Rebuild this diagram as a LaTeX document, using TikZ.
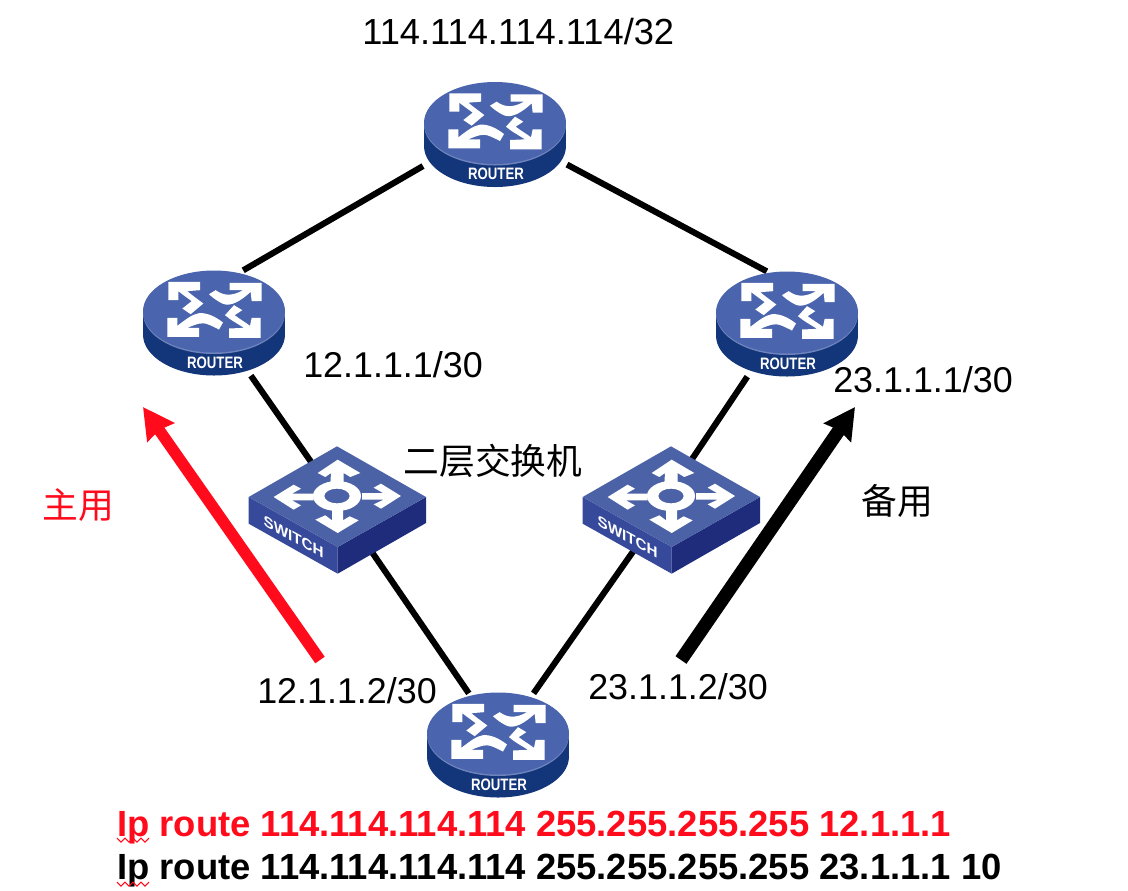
\documentclass[tikz,border=0pt]{standalone}
\usepackage{fontspec}
\setmainfont{Liberation Sans}
\newfontfamily\cjkfont{Noto Sans CJK SC}
\usetikzlibrary{arrows.meta,shapes.geometric}
\definecolor{rtop}{HTML}{4A65AD}
\definecolor{rside}{HTML}{13357A}
\definecolor{rrim}{HTML}{6F83BC}
\definecolor{stop}{HTML}{4B63A6}
\definecolor{sleft}{HTML}{37499A}
\definecolor{sright}{HTML}{1F2C7C}
\definecolor{mainred}{HTML}{FF0B1C}
\tikzset{
  x=0.75pt,y=-0.75pt,
  devbox/.style={draw=none,rectangle,inner sep=0pt,outer sep=0pt,minimum width=108pt,minimum height=79pt},
  swbox/.style={draw=none,diamond,shape aspect=1.41,inner sep=0pt,outer sep=0pt,minimum width=134pt,minimum height=95pt},
  link/.style={line width=4.6pt,black},
  bigarrow/.style={-{Stealth[length=23pt,width=24pt,inset=2pt]}},
  lbl/.style={inner sep=0pt,anchor=base west,font=\fontsize{26.9pt}{30pt}\selectfont},
  cmd/.style={inner sep=0pt,anchor=base west,font=\fontsize{27.3pt}{30pt}\selectfont\bfseries},
  cjk/.style={inner sep=0pt,font=\fontsize{26.8pt}{30pt}\selectfont\cjkfont},
  squiggle/.style={draw=mainred,line width=0.8pt},
  router/.pic={
    \fill[rside] (-71,0) rectangle (71,23);
    \fill[rside] (0,23) ellipse [x radius=71,y radius=41];
    \fill[rrim] (0,1.5) ellipse [x radius=71,y radius=41];
    \fill[rtop] (0,0) ellipse [x radius=71,y radius=41];
    \node[text=white,inner sep=0pt,xscale=0.8,transform shape,font=\fontsize{12.4pt}{13pt}\selectfont\bfseries] at (1,51) {ROUTER};
    \begin{scope}[x=0.25pt,y=-0.25pt,shift={(-285,-189)}]
      \fill[white] (148,100) -- (243,100) -- (243,125) -- (205,128)
        .. controls (225,145) and (240,155) .. (253,165) -- (215,197) -- (190,180) -- (218,158)
        .. controls (205,148) and (190,138) .. (178,128) -- (178,155) -- (148,155) -- cycle;
      \fill[white] (428,103) -- (428,158) -- (398,158) -- (395,130)
        .. controls (365,158) and (335,175) .. (312,166)
        .. controls (295,158) and (280,147) .. (270,137) -- (290,125)
        .. controls (315,143) and (340,143) .. (372,125) -- (332,125) -- (332,103) -- cycle;
      \fill[white] (145,265) -- (240,265) -- (240,238) -- (205,238)
        .. controls (235,225) and (250,222) .. (262,226)
        .. controls (275,230) and (290,238) .. (300,243) -- (312,222)
        .. controls (290,205) and (265,192) .. (240,194)
        .. controls (220,197) and (200,213) .. (175,232) -- (175,208) -- (145,208) -- cycle;
      \fill[white] (425,268) -- (330,268) -- (330,240) -- (375,238)
        .. controls (355,225) and (335,215) .. (318,200) -- (345,170) -- (370,185) -- (347,200)
        .. controls (360,210) and (380,222) .. (393,232) -- (398,208) -- (425,208) -- cycle;
    \end{scope}
  },
  switch/.pic={
    \begin{scope}[x=0.25pt,y=-0.25pt,shift={(-320,-200)}]
      \fill[sleft] (55,200) -- (322,350) -- (322,430) -- (55,280) -- cycle;
      \fill[sright] (587,200) -- (322,350) -- (322,430) -- (587,278) -- cycle;
      \fill[stop] (320,48) -- (587,200) -- (322,350) -- (55,200) -- cycle;
      \fill[white,even odd rule] (320,197) ellipse [x radius=72,y radius=45]
        (320,197) ellipse [x radius=38,y radius=22];
      \fill[white] (322,88) -- (390,128) -- (360,140) -- (340,128) -- (340,160) -- (300,160) -- (302,128) -- (285,140) -- (262,128) -- cycle;
      \fill[white] (130,200) -- (190,163) -- (212,175) -- (185,190) -- (250,190) -- (250,210) -- (185,210) -- (212,225) -- (190,238) -- cycle;
      \fill[white] (512,197) -- (452,235) -- (430,222) -- (460,208) -- (395,208) -- (395,188) -- (458,188) -- (430,172) -- (452,160) -- cycle;
      \fill[white] (322,308) -- (255,268) -- (285,255) -- (305,270) -- (305,235) -- (338,235) -- (338,270) -- (358,258) -- (385,270) -- cycle;
      \node[text=white,inner sep=0pt,transform shape,yslant=-0.56,font=\fontsize{11.4pt}{12pt}\selectfont\bfseries] at (190,320) {SWITCH};
    \end{scope}
  }
}
\begin{document}
\begin{tikzpicture}
\fill[white] (0,0) rectangle (1128,890);
\useasboundingbox (0,0) rectangle (1128,890);
% device boxes
\node[devbox] (rtop) at (495,134) {};
\node[devbox] (rleft) at (214,323) {};
\node[devbox] (rright) at (787,324) {};
\node[devbox] (rbottom) at (498,746) {};
\node[swbox] (swl) at (337,510) {};
\node[swbox] (swr) at (671,510) {};
% links
\draw[link] (rtop.204.8) -- (rleft.61);
\draw[link] (rtop.-23) -- (rright.111.3);
\draw[link] (rleft.-55) -- (swl.118.6);
\draw[link] (swl.-50.9) -- (rbottom.119);
\draw[link] (rright.-127.6) -- (swr.68.4);
\draw[link] (swr.-133.5) -- (rbottom.56.6);
% devices
\pic at (495,123) {router};
\pic at (214,311.5) {router};
\pic at (787,312.5) {router};
\pic at (498,733.5) {router};
\pic at (337,497) {switch};
\pic at (671,497) {switch};
% arrows
\coordinate (redS) at (320,660);
\coordinate (redE) at (143,407);
\coordinate (blkS) at (681,660);
\coordinate (blkE) at (855,407);
\draw[bigarrow,mainred,line width=8.6pt] (redS) -- (redE);
\draw[bigarrow,black,line width=10pt] (blkS) -- (blkE);
% labels
\node[lbl,font=\fontsize{27.2pt}{30pt}\selectfont] (t1) at (362,44) {114.114.114.114/32};
\node[lbl] (t2) at (303,377) {12.1.1.1/30};
\node[lbl] (t3) at (833,392) {23.1.1.1/30};
\node[lbl] (t4) at (257,703) {12.1.1.2/30};
\node[lbl] (t5) at (588,699) {23.1.1.2/30};
\node[cjk] (t6) at (493,461) {二层交换机};
\node[cjk,text=mainred] (t7) at (78,505) {主用};
\node[cjk] (t8) at (897,501) {备用};
\node[cmd,text=mainred] (c1) at (117,836) {Ip route 114.114.114.114 255.255.255.255 12.1.1.1};
\node[cmd] (c2) at (117,879) {Ip route 114.114.114.114 255.255.255.255 23.1.1.1 10};
\draw[squiggle] (117,838) -- (121,842) -- (125,838) -- (129,842) -- (133,838) -- (137,842) -- (141,838) -- (145,842) -- (149,838);
\draw[squiggle] (117,882) -- (121,886) -- (125,882) -- (129,886) -- (133,882) -- (137,886) -- (141,882) -- (145,886) -- (149,882);
\end{tikzpicture}
\end{document}
